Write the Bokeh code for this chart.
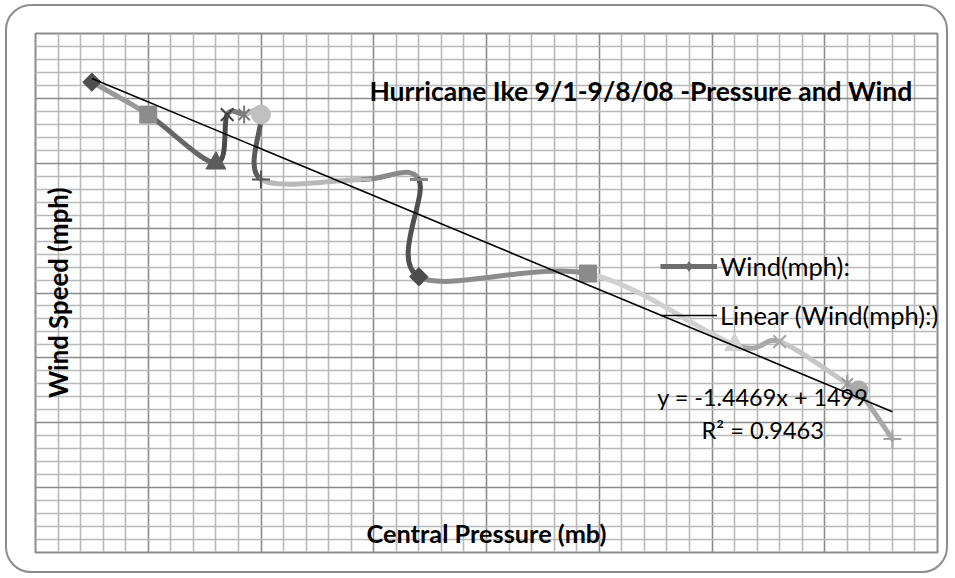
import numpy as np
from bokeh.plotting import figure
from bokeh.models import (FixedTicker, Grid, Label, Legend, LegendItem, Range1d)
from bokeh.embed import file_html
from bokeh.resources import INLINE

# ---------------- data ----------------
pressure = [935, 940, 946, 947, 948.5, 950, 950, 959, 964, 964, 979, 992, 996, 1002, 1003, 1006]
wind = [145, 135, 120, 135, 135, 135, 115, 115, 115, 85, 86, 64, 65, 52, 50, 35]
marker_kinds = ["diamond", "square", "triangle", "x", "star", "circle", "plus", "dash",
                "dash", "diamond", "square", "triangle", "x", "star", "circle", "plus"]
point_colors = ["#4f4f4f", "#8c8c8c", "#5c5c5c", "#404040", "#7a7a7a", "#c0c0c0", "#555555", "#bdbdbd",
                "#868686", "#4d4d4d", "#8a8a8a", "#d2d2d2", "#a6a6a6", "#9a9a9a", "#ababab", "#a3a3a3"]
segment_colors = ["#999999", "#666666", "#4a4a4a", "#7a7a7a", "#bdbdbd", "#5a5a5a", "#b8b8b8",
                  "#8a8a8a", "#505050", "#8c8c8c", "#d0d0d0", "#a8a8a8", "#c6c6c6", "#b0b0b0", "#a9a9a9"]
trend_slope = -1.4469
trend_intercept = 1499.0
equation_text = "y = -1.4469x + 1499"
r2_text = "R\u00b2 = 0.9463"
x_start, x_end, x_major_step, x_minor_step = 930, 1010, 10, 2
y_start, y_end, y_major_step, y_minor_step = 0, 160, 20, 4

# ---------------- figure ----------------
p = figure(width=943, height=569, x_range=Range1d(x_start, x_end), y_range=Range1d(y_start, y_end),
           x_axis_type=None, y_axis_type=None, output_backend="svg", toolbar_location=None,
           min_border_left=28, min_border_right=13, min_border_top=27, min_border_bottom=23)
p.outline_line_color = "#8c8c8c"
p.outline_line_width = 2
p.background_fill_color = "white"
p.border_fill_color = None
p.styles = {"border": "2px solid #8c8c8c", "border-radius": "26px",
            "margin-left": "5px", "margin-top": "4px", "background-color": "white"}

x_major = list(range(x_start, x_end + 1, x_major_step))
x_minor = [v for v in range(x_start, x_end + 1, x_minor_step) if v % x_major_step != 0]
y_major = list(range(y_start, y_end + 1, y_major_step))
y_minor = [v for v in range(y_start, y_end + 1, y_minor_step) if v % y_major_step != 0]

for dim, maj, mnr in ((0, x_major, x_minor), (1, y_major, y_minor)):
    p.add_layout(Grid(dimension=dim, ticker=FixedTicker(ticks=maj, minor_ticks=mnr),
                      grid_line_color="#8a8a8a", grid_line_width=1.6,
                      minor_grid_line_color="#b9b9b9", minor_grid_line_width=1.6))

# ---------------- smoothed line (Catmull-Rom -> cubic bezier, like Excel) ----------------
px = np.array(pressure, float)
wy = np.array(wind, float)
prev_x = np.r_[px[0], px[:-1]]; next_x = np.r_[px[1:], px[-1]]
prev_y = np.r_[wy[0], wy[:-1]]; next_y = np.r_[wy[1:], wy[-1]]
tx = (next_x - prev_x) / 6.0
ty = (next_y - prev_y) / 6.0
p.bezier(x0=px[:-1], y0=wy[:-1], x1=px[1:], y1=wy[1:],
         cx0=px[:-1] + tx[:-1], cy0=wy[:-1] + ty[:-1],
         cx1=px[1:] - tx[1:], cy1=wy[1:] - ty[1:],
         line_color=segment_colors, line_width=5, line_cap="round")

# ---------------- markers ----------------
marker_style = {
    "diamond": [dict(marker="square", size=13, angle=np.pi / 4, line_width=1)],
    "square": [dict(marker="square", size=17, angle=0, line_width=1)],
    "triangle": [dict(marker="triangle", size=20, angle=0, line_width=1)],
    "x": [dict(marker="x", size=18, angle=0, line_width=2)],
    "star": [dict(marker="x", size=16, angle=0, line_width=2), dict(marker="dash", size=18, angle=np.pi / 2, line_width=2)],
    "circle": [dict(marker="circle", size=19, angle=0, line_width=1)],
    "plus": [dict(marker="cross", size=18, angle=0, line_width=2)],
    "dash": [dict(marker="dash", size=18, angle=0, line_width=3)],
}
for kind, styles in marker_style.items():
    idx = [i for i, k in enumerate(marker_kinds) if k == kind]
    if not idx:
        continue
    xs = [pressure[i] for i in idx]
    ys = [wind[i] for i in idx]
    cs = [point_colors[i] for i in idx]
    for st in styles:
        p.scatter(x=xs, y=ys, marker=st["marker"], size=st["size"], angle=st["angle"],
                  fill_color=cs, line_color=cs, line_width=st["line_width"])

# ---------------- linear trendline ----------------
tr_x = [min(pressure), max(pressure)]
tr_y = [trend_slope * v + trend_intercept for v in tr_x]
trend = p.line(tr_x, tr_y, line_color="black", line_width=1.6)

# ---------------- legend ----------------
leg_line = p.line(x=[np.nan], y=[np.nan], line_color="#6e6e6e", line_width=5)
leg_mark = p.scatter(x=[np.nan], y=[np.nan], marker="diamond", size=17,
                     fill_color="#6e6e6e", line_color="#6e6e6e")
legend = Legend(items=[LegendItem(label="Wind(mph):", renderers=[leg_line, leg_mark]),
                       LegendItem(label="Linear (Wind(mph):)", renderers=[trend])],
                location=(625, 222), orientation="vertical",
                glyph_width=57, glyph_height=24, label_height=24, label_standoff=3,
                spacing=19, padding=0, margin=0,
                border_line_color=None, background_fill_alpha=0,
                label_text_font="Lato", label_text_font_size="25.5px", label_text_color="black")
p.add_layout(legend, "center")

# ---------------- texts ----------------
FONT = "Lato"
p.add_layout(Label(x=983.7, y=142.4, text="Hurricane Ike 9/1-9/8/08 -Pressure and Wind",
                   text_font=FONT, text_font_style="bold", text_font_size="26.5px",
                   text_align="center", text_baseline="middle", text_color="black"))
p.add_layout(Label(x=970.0, y=5.9, text="Central Pressure (mb)",
                   text_font=FONT, text_font_style="bold", text_font_size="25.3px",
                   text_align="center", text_baseline="middle", text_color="black"))
p.add_layout(Label(x=932.0, y=80.1, text="Wind Speed (mph)", angle=np.pi / 2,
                   text_font=FONT, text_font_style="bold", text_font_size="25.8px",
                   text_align="center", text_baseline="middle", text_color="black"))
p.add_layout(Label(x=994.5, y=47.8, text=equation_text,
                   text_font=FONT, text_font_size="23.4px",
                   text_align="center", text_baseline="middle", text_color="black"))
p.add_layout(Label(x=994.5, y=37.9, text=r2_text,
                   text_font=FONT, text_font_size="23.6px",
                   text_align="center", text_baseline="middle", text_color="black"))

open("out.html", "w").write(file_html(p, INLINE))
